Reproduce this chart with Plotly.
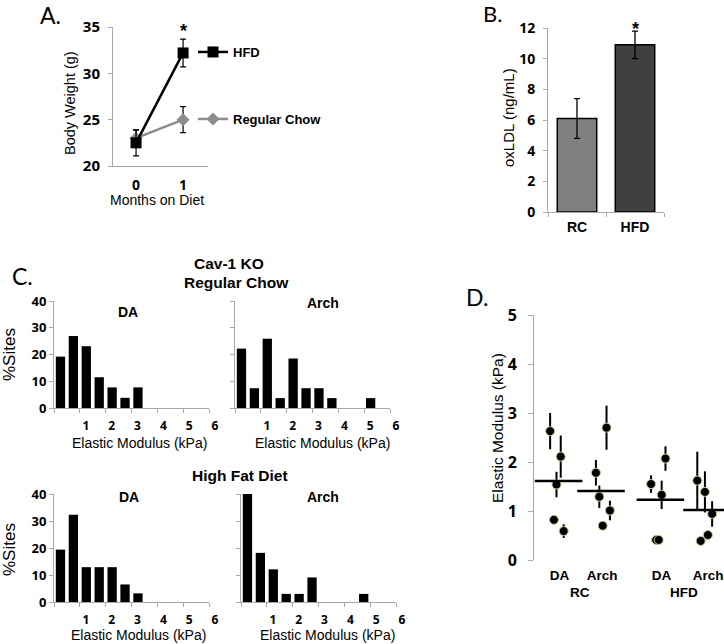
import plotly.graph_objects as go

W, H = 724, 644

# A. body weight
months = [0, 1]
hfd_weight = [22.5, 32.2]
hfd_weight_err = [1.4, 1.5]
rc_weight = [23.0, 25.0]
rc_weight_err = [0.9, 1.4]

# B. oxLDL
ldl_groups = ["RC", "HFD"]
ldl_values = [6.1, 10.9]
ldl_err = [1.3, 0.9]
ldl_colors = ["#808080", "#404040"]

# C. histograms (% sites per 0.5 kPa bin)
bins = [0.0, 0.5, 1.0, 1.5, 2.0, 2.5, 3.0, 3.5, 4.0, 4.5, 5.0]
da_rc = [19.2, 26.9, 23.1, 11.5, 7.7, 3.8, 7.7]
arch_rc = [22.2, 7.4, 25.9, 3.7, 18.5, 7.4, 7.4, 3.7, 0, 0, 3.7]
da_hfd = [19.4, 32.3, 12.9, 12.9, 12.9, 6.5, 3.2]
arch_hfd = [40.0, 18.2, 12.1, 3.0, 3.0, 9.1, 0, 0, 0, 3.0]
hist_ticks = ["1", "2", "3", "4", "5", "6"]

# D. elastic modulus per animal
d_groups = ["DA", "Arch", "DA", "Arch"]
d_diets = ["RC", "HFD"]
group_x = [1, 2, 3.4, 4.5]
modulus = [[2.63, 2.11, 1.54, 0.82, 0.59],
           [1.78, 2.70, 1.29, 1.01, 0.70],
           [1.55, 2.07, 1.33, 0.41, 0.41],
           [1.62, 1.39, 0.94, 0.39, 0.51]]
modulus_err = [[0.37, 0.43, 0.26, 0.08, 0.14],
               [0.26, 0.45, 0.23, 0.20, 0.0],
               [0.18, 0.25, 0.29, 0.0, 0.0],
               [0.59, 0.42, 0.26, 0.0, 0.0]]
jitter = [[-0.20, 0.05, -0.05, -0.11, 0.12],
          [-0.12, 0.13, -0.04, 0.21, 0.04],
          [-0.22, 0.12, 0.03, -0.10, -0.04],
          [-0.23, -0.05, 0.12, -0.15, 0.02]]
modulus_mean = [1.61, 1.41, 1.23, 1.02]

ARIAL = "Liberation Sans"
NUM = "Noto Sans"
LETTER = "Lato"
AX = "#a8a8a8"


def px(x, y):
    return x / W, 1 - y / H


def dom_x(a, b):
    return [a / W, b / W]


def dom_y(top, bottom):
    return [1 - bottom / H, 1 - top / H]


fig = go.Figure()

# ---- A
fig.add_trace(go.Scatter(x=months, y=rc_weight, mode="lines+markers", name="Regular Chow",
                         line=dict(color="#8c8c8c", width=2.5),
                         marker=dict(symbol="diamond", size=10, color="#8c8c8c"),
                         error_y=dict(type="data", array=rc_weight_err, color="black", thickness=1.2, width=3),
                         xaxis="x", yaxis="y", legend="legend2"))
fig.add_trace(go.Scatter(x=months, y=hfd_weight, mode="lines+markers", name="HFD",
                         line=dict(color="black", width=2.5),
                         marker=dict(symbol="square", size=11, color="black"),
                         error_y=dict(type="data", array=hfd_weight_err, color="black", thickness=1.2, width=3),
                         xaxis="x", yaxis="y", legend="legend"))

# ---- B
fig.add_trace(go.Bar(x=ldl_groups, y=ldl_values, width=0.68,
                     marker=dict(color=ldl_colors, line=dict(color="black", width=1.5)),
                     error_y=dict(type="data", array=ldl_err, color="black", thickness=1.3, width=3),
                     xaxis="x2", yaxis="y2", showlegend=False))

# ---- C
hists = [(da_rc, "x3", "y3"), (arch_rc, "x4", "y4"), (da_hfd, "x5", "y5"), (arch_hfd, "x6", "y6")]
for vals, xa, ya in hists:
    fig.add_trace(go.Bar(x=bins[:len(vals)], y=vals, width=0.36, marker=dict(color="black", line=dict(width=0)),
                         xaxis=xa, yaxis=ya, showlegend=False))

# ---- D
for i in range(len(group_x)):
    fig.add_trace(go.Scatter(x=[group_x[i] + j for j in jitter[i]], y=modulus[i], mode="markers",
                             marker=dict(size=9, color="black", line=dict(color="#c9c98f", width=1)),
                             error_y=dict(type="data", array=modulus_err[i], color="black", thickness=2, width=0),
                             xaxis="x7", yaxis="y7", showlegend=False))
fig.add_trace(go.Scatter(x=group_x, y=modulus_mean, mode="markers",
                         marker=dict(symbol="line-ew", size=34, line=dict(color="black", width=2.5)),
                         xaxis="x7", yaxis="y7", showlegend=False))

base = dict(showgrid=False, zeroline=False, showline=True, linecolor=AX, linewidth=1,
            tickcolor=AX, ticklen=4, fixedrange=True)
numfont = dict(family=NUM, size=14, color="black", weight="bold")
boldfont = dict(family=ARIAL, size=14, color="black", weight="bold")

hist_x = dict(base, range=[-0.25, 5.75], ticks="outside",
              tickvals=[-0.25 + k for k in range(7)], ticktext=[""] + hist_ticks,
              ticklabelshift=6, ticklabelstandoff=3, ticklabeloverflow="allow",
              tickfont=dict(numfont, size=12))
hist_y = dict(base, range=[0, 40], ticks="outside", tickvals=[0, 10, 20, 30, 40],
              tickfont=dict(numfont, size=13))

fig.update_layout(
    width=W, height=H, margin=dict(l=0, r=0, t=0, b=0, autoexpand=False),
    paper_bgcolor="white", plot_bgcolor="rgba(0,0,0,0)",
    font=dict(family=ARIAL, color="black"),
    # A
    xaxis=dict(base, domain=dom_x(113, 208), range=[-0.49, 1.53], tickvals=months, ticks="",
               tickfont=numfont, ticklabelstandoff=6, anchor="y"),
    yaxis=dict(base, domain=dom_y(27, 166), range=[20, 35], dtick=5, ticks="outside",
               tickfont=dict(numfont, size=15), ticklabelstandoff=5, anchor="x"),
    # B
    xaxis2=dict(base, domain=dom_x(548, 664), range=[-0.5, 1.5], ticks="outside", tickson="boundaries",
                tickfont=boldfont, ticklabelstandoff=2, anchor="y2"),
    yaxis2=dict(base, domain=dom_y(28, 212), range=[0, 12], dtick=2, ticks="outside",
                tickfont=numfont, ticklabelstandoff=5, anchor="x2"),
    # C
    xaxis3=dict(hist_x, domain=dom_x(54, 209), anchor="y3"),
    yaxis3=dict(hist_y, domain=dom_y(301, 408), anchor="x3"),
    xaxis4=dict(hist_x, domain=dom_x(235, 390), anchor="y4"),
    yaxis4=dict(hist_y, domain=dom_y(301, 408), showticklabels=False, anchor="x4"),
    xaxis5=dict(hist_x, domain=dom_x(54, 209), anchor="y5"),
    yaxis5=dict(hist_y, domain=dom_y(494, 602), anchor="x5"),
    xaxis6=dict(hist_x, domain=dom_x(241, 396), anchor="y6"),
    yaxis6=dict(hist_y, domain=dom_y(494, 602), showticklabels=False, anchor="x6"),
    # D
    xaxis7=dict(base, domain=dom_x(534, 724), range=[0.42, 4.9], showline=False, ticks="",
                tickvals=group_x, ticktext=d_groups, tickfont=dict(boldfont, size=13.5),
                ticklabelshift=1, ticklabelstandoff=5, ticklabeloverflow="allow", anchor="y7"),
    yaxis7=dict(base, domain=dom_y(315, 560), range=[0, 5], dtick=1, ticks="outside", ticklen=5,
                tickfont=dict(numfont, size=16), ticklabelstandoff=8, anchor="x7"),
    legend=dict(x=193 / W, y=1 - 52 / H, xanchor="left", yanchor="middle", bgcolor="rgba(0,0,0,0)",
                font=dict(family=ARIAL, size=13, color="black", weight="bold")),
    legend2=dict(x=193 / W, y=1 - 119 / H, xanchor="left", yanchor="middle", bgcolor="rgba(0,0,0,0)",
                 font=dict(family=ARIAL, size=13, color="black", weight="bold")),
)

annotations = []


def note(text, x, y, size=14, bold=False, family=ARIAL, angle=0):
    xp, yp = px(x, y)
    annotations.append(dict(text=text, x=xp, y=yp, xref="paper", yref="paper", showarrow=False,
                            xanchor="center", yanchor="middle", textangle=angle,
                            font=dict(family=family, size=size, color="black",
                                      weight="bold" if bold else "normal")))


# panel letters
note("A.", 50, 15, size=23, family=LETTER)
note("B.", 492, 13, size=22, family=LETTER)
note("C.", 22, 276, size=23, family=LETTER)
note("D.", 477, 297, size=23, family=LETTER)

# A
note("Body Weight (g)", 70, 103, size=14.5, angle=-90)
note("Months on Diet", 157, 200, size=14)
annotations.append(dict(text="*", x=months[1], y=1 - 19 / H, xref="x", yref="paper", showarrow=False,
                        font=dict(family=ARIAL, size=18, color="black", weight="bold")))
# B
note("oxLDL (ng/mL)", 509, 117, size=15, angle=-90)
annotations.append(dict(text="*", x=ldl_groups[1], y=1 - 17 / H, xref="x2", yref="paper", showarrow=False,
                        font=dict(family=ARIAL, size=18, color="black", weight="bold")))
# C
note("Cav-1 KO", 229, 263, size=15.5, bold=True)
note("Regular Chow", 236, 282, size=15.5, bold=True)
note("High Fat Diet", 240, 475, size=15.5, bold=True)
note("DA", 128, 312, size=14, bold=True)
note("Arch", 323, 303, size=14, bold=True)
note("DA", 129, 497, size=14, bold=True)
note("Arch", 323, 497, size=14, bold=True)
note("%Sites", 9, 355, size=17, angle=-90)
note("%Sites", 9, 550, size=17, angle=-90)
note("Elastic Modulus (kPa)", 139, 443, size=14)
note("Elastic Modulus (kPa)", 322, 443, size=14)
note("Elastic Modulus (kPa)", 138, 635, size=14)
note("Elastic Modulus (kPa)", 327, 635, size=14)
# D
note("Elastic Modulus (kPa)", 497, 428, size=15.5, angle=-90)
for k, diet in enumerate(d_diets):
    annotations.append(dict(text=diet, x=(group_x[2 * k] + group_x[2 * k + 1]) / 2, y=1 - 592 / H,
                            xref="x7", yref="paper", showarrow=False, yanchor="middle",
                            font=dict(family=ARIAL, size=13.5, color="black", weight="bold")))

fig.update_layout(annotations=annotations)
fig.write_html("out.html", config={"displayModeBar": False},
               post_script="document.body.style.margin='0px';")
